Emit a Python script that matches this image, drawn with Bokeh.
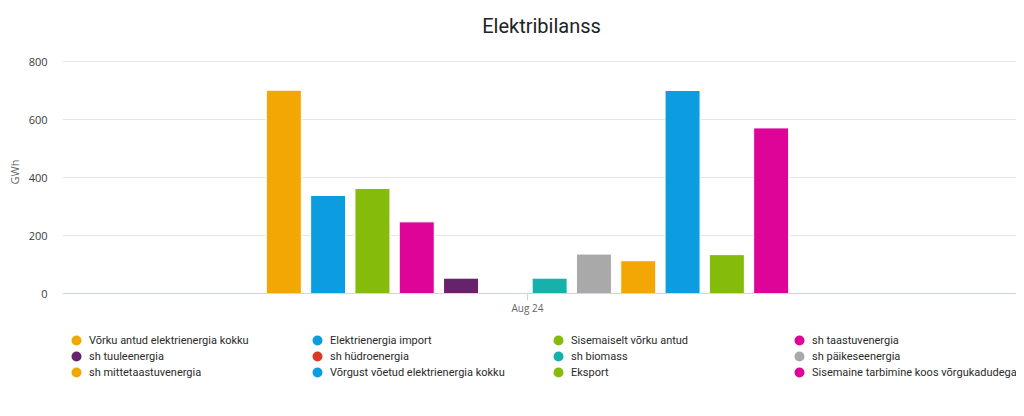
import math
from bokeh.plotting import figure
from bokeh.models import (ColumnDataSource, Range1d, FixedTicker, Legend,
                          LegendItem, Title, Label)
from bokeh.embed import file_html
from bokeh.resources import INLINE

# ---- data ----
title = "Elektribilanss"
categories = ["Aug 24"]
series = [
    "Võrku antud elektrienergia kokku",
    "Elektrienergia import",
    "Sisemaiselt võrku antud",
    "sh taastuvenergia",
    "sh tuuleenergia",
    "sh hüdroenergia",
    "sh biomass",
    "sh päikeseenergia",
    "sh mittetaastuvenergia",
    "Võrgust võetud elektrienergia kokku",
    "Eksport",
    "Sisemaine tarbimine koos võrgukadudega",
]
values = [701, 338, 362, 247, 53, 0.6, 53, 136, 113, 700, 134, 571]
colors = ["#f2a705", "#0b9de0", "#85bb0a", "#de0497", "#66236c", "#d83a25",
          "#17b1ac", "#a9a9a9", "#f2a705", "#0b9de0", "#85bb0a", "#de0497"]
y_ticks = [0, 200, 400, 600, 800]
y_label = "GWh"

FONT = "Open Sans"
LEG_FONT = "Roboto"

# ---- layout (pixels) ----
W, H = 1016, 400
FRAME_LEFT = 62
ROW_800, ZERO_PX = 61, 293        # pixel rows of the 800 and 0 gridlines
GROUP_CENTER_PX, SLOT_PX = 527, 44.3
TITLE_X_PX, TITLE_MID_PX = 541, 25

y_max = y_ticks[-1]
px_per_unit = (ZERO_PX - ROW_800) / y_max
y_lo = -(H - ZERO_PX) / px_per_unit   # frame runs to the bottom (legend lives there)
y_hi = ZERO_PX / px_per_unit          # and to the top (title lives there)
x_lo = -(GROUP_CENTER_PX - FRAME_LEFT) / SLOT_PX
x_hi = (W - GROUP_CENTER_PX) / SLOT_PX

n = len(series)
cat_index = 0
bar_width = 0.79
xs = [cat_index + (i - (n - 1) / 2) for i in range(n)]

p = figure(width=W, height=H, output_backend="svg", toolbar_location=None,
           title=None,
           x_range=Range1d(x_lo, x_hi), y_range=Range1d(y_lo, y_hi),
           min_border_left=FRAME_LEFT, min_border_right=0, min_border_top=0,
           min_border_bottom=0)
p.outline_line_color = None
p.background_fill_color = "white"
p.border_fill_color = "white"

source = ColumnDataSource(dict(x=xs, top=values, color=colors, name=series))
p.vbar(x="x", top="top", width=bar_width, fill_color="color", line_color="white",
       line_width=1, source=source)

# legend proxies (circle markers)
items = []
for s, c in zip(series, colors):
    r = p.scatter(x=[math.nan], y=[math.nan], marker="circle", size=6,
                  fill_color=c, line_color=c, line_width=4.4)
    items.append(LegendItem(label=s, renderers=[r]))

legend = Legend(items=items, orientation="horizontal", ncols=4,
                location=(7, 20.5), glyph_width=14, glyph_height=14,
                label_standoff=6, label_width=220, label_height=15, spacing=1,
                padding=0, margin=0, border_line_color=None,
                background_fill_alpha=0, label_text_font_size="11px",
                label_text_color="#2a2a2a", label_text_font=LEG_FONT)
p.add_layout(legend, "center")

# title (inside the frame area, which spans the full height)
p.add_layout(Label(x=x_lo + (TITLE_X_PX - FRAME_LEFT) / SLOT_PX,
                   y=(ZERO_PX - TITLE_MID_PX) / px_per_unit,
                   text=title, text_align="center", text_baseline="middle",
                   text_font="Roboto", text_font_size="20px",
                   text_color="#222222"))

# axes
yax = p.yaxis[0]
yax.ticker = FixedTicker(ticks=y_ticks)
yax.major_label_text_font = FONT
yax.major_label_text_font_size = "11px"
yax.major_label_text_color = "#3a3a3a"
yax.axis_line_color = None
yax.major_tick_line_color = None
yax.major_tick_in = 0
yax.major_tick_out = 0
yax.minor_tick_line_color = None
yax.major_label_standoff = 15

ylab = Title(text=y_label, align="right", offset=159, standoff=8,
             text_font=FONT, text_font_size="11px", text_font_style="normal",
             text_color="#666666")
p.add_layout(ylab, "left")

xax = p.xaxis[0]
xax.fixed_location = 0
xax.ticker = FixedTicker(ticks=[cat_index])
xax.major_label_overrides = {cat_index: categories[0]}
xax.axis_line_color = "#ccd6eb"
xax.major_tick_in = 0
xax.major_tick_out = 7
xax.major_tick_line_color = "#ccd6eb"
xax.minor_tick_line_color = None
xax.major_label_text_font = FONT
xax.major_label_text_font_size = "10px"
xax.major_label_text_color = "#666666"
xax.major_label_standoff = 0

p.xgrid.visible = False
p.ygrid.ticker = FixedTicker(ticks=y_ticks)
p.ygrid.grid_line_color = "#e6e6e6"

open("out.html", "w").write(file_html(p, INLINE))
